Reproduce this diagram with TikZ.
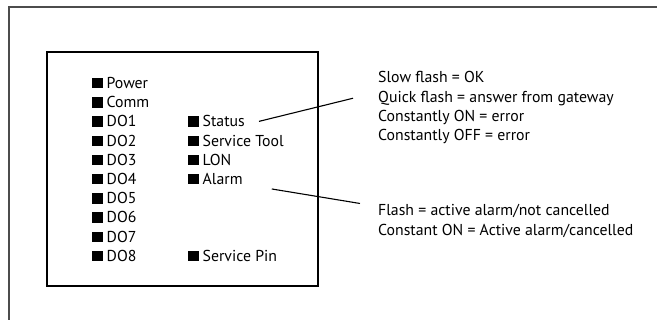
\documentclass[tikz,border=0pt]{standalone}
\usepackage{fontspec}
\setmainfont{PT Sans}
\usetikzlibrary{positioning}

\tikzset{
  led/.style={anchor=base west, inner sep=0pt, font=\fontsize{15.8}{19.2}\selectfont},
  note/.style={anchor=base west, inner sep=0pt, font=\fontsize{15.8}{19.2}\selectfont},
}
\newcommand{\ledbox}{\rule{10.5pt}{10.5pt}\hspace{4pt}}

\begin{document}
\begin{tikzpicture}[x=1pt,y=-1pt]
	\useasboundingbox (0,0) rectangle (657,320);
	
	% Outer frame, only top and left edge are visible
	\draw[line width=1.8pt, black!70] (9,320) |- (657,7);
	
	% Module front
	\draw[line width=1.1pt] (47,52) rectangle (318,286);
	
	% Left column of LEDs
	\node[led] (power) at (92,88.5) {\ledbox Power};
	\node[led] (comm) at (92,107.7) {\ledbox Comm};
	\foreach \i in {1,...,8}
		\node[led] (do\i) at (92,{107.7+19.2*\i}) {\ledbox DO\i};
	
	% Right column of LEDs
	\node[led] (status) at ([xshift=96pt]do1.base west) {\ledbox Status};
	\node[led] (tool) at ([xshift=96pt]do2.base west) {\ledbox Service Tool};
	\node[led] (lon) at ([xshift=96pt]do3.base west) {\ledbox LON};
	\node[led] (alarm) at ([xshift=96pt]do4.base west) {\ledbox Alarm};
	\node[led] (pin) at ([xshift=96pt]do8.base west) {\ledbox Service Pin};
	
	% Status explanation
	\node[note] (slow) at (378,83) {Slow flash = OK};
	\node[note] (quick) at (378,102.2) {Quick flash = answer from gateway};
	\node[note] (on) at (378,121.4) {Constantly ON = error};
	\node[note] (off) at (378,140.6) {Constantly OFF = error};
	
	% Alarm explanation
	\node[note] (flash) at (378,216) {Flash = active alarm/not cancelled};
	\node[note] (const) at (378,235.2) {Constant ON = Active alarm/cancelled};
	
	% Pointers
	\draw[line width=1.1pt] ([xshift=14pt]status.east) -- ([xshift=-25pt]quick.west);
	\draw[line width=1.1pt] ([shift={(29,10)}]alarm.east) -- ([shift={(-18,-8)}]flash.west);
\end{tikzpicture}
\end{document}
